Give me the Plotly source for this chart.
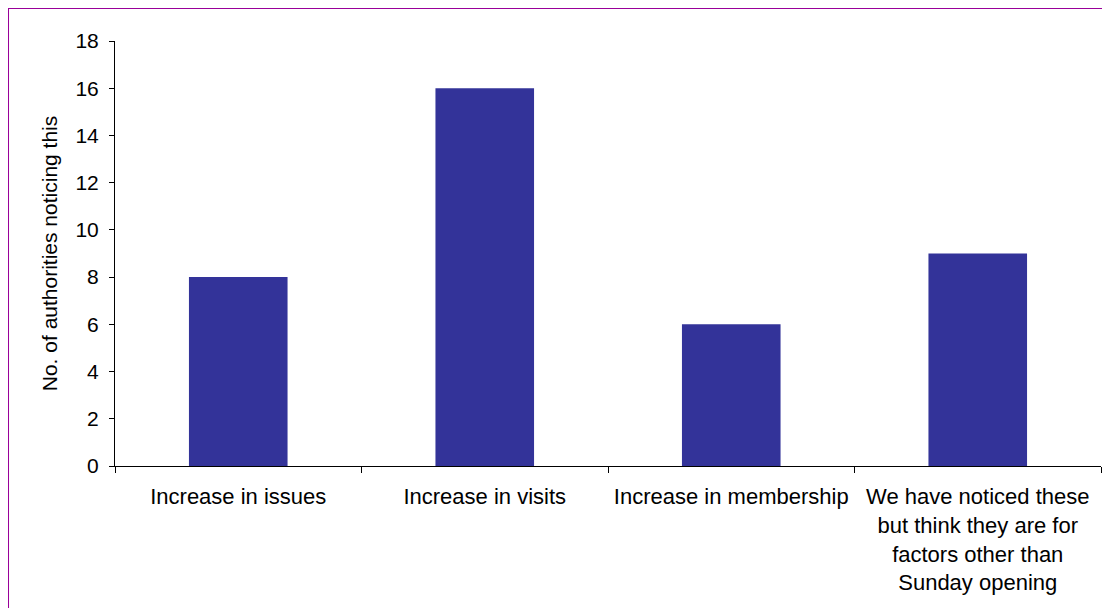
import plotly.graph_objects as go

categories = [
    "Increase in issues",
    "Increase in visits",
    "Increase in membership",
    "We have noticed these<br>but think they are for<br>factors other than<br>Sunday opening",
]
counts = [8, 16, 6, 9]
y_ticks = [0, 2, 4, 6, 8, 10, 12, 14, 16, 18]

font = dict(family="Liberation Sans, Arial, sans-serif", size=21, color="black")

fig = go.Figure(go.Bar(x=categories, y=counts, marker_color="#333399", marker_line_width=0))

# page has an 8px body margin, so margins are set in figure pixels
fig.update_layout(
    width=1110,
    height=608,
    margin=dict(l=107, r=17, t=33, b=150),
    paper_bgcolor="white",
    plot_bgcolor="white",
    font=font,
    bargap=0.6,
    showlegend=False,
)
fig.update_xaxes(
    showline=True, linecolor="black", linewidth=1,
    ticks="outside", tickson="boundaries", ticklen=6, tickcolor="black",
    showgrid=False, ticklabelstandoff=11,
    tickfont=dict(size=22),
)
fig.update_yaxes(
    range=[0, 18], tickvals=y_ticks,
    showline=True, linecolor="black", linewidth=1,
    ticks="outside", ticklen=5, tickcolor="black",
    showgrid=False, zeroline=False, ticklabelstandoff=6,
    title=dict(text="No. of authorities noticing this", standoff=12, font=dict(size=21)),
)

# purple frame along the figure edge
fig.add_shape(type="rect", xref="paper", yref="paper",
              x0=-0.1085, x1=1.05, y0=-0.5, y1=1.0776,
              line=dict(color="#990099", width=2))

fig.write_html("out.html")
